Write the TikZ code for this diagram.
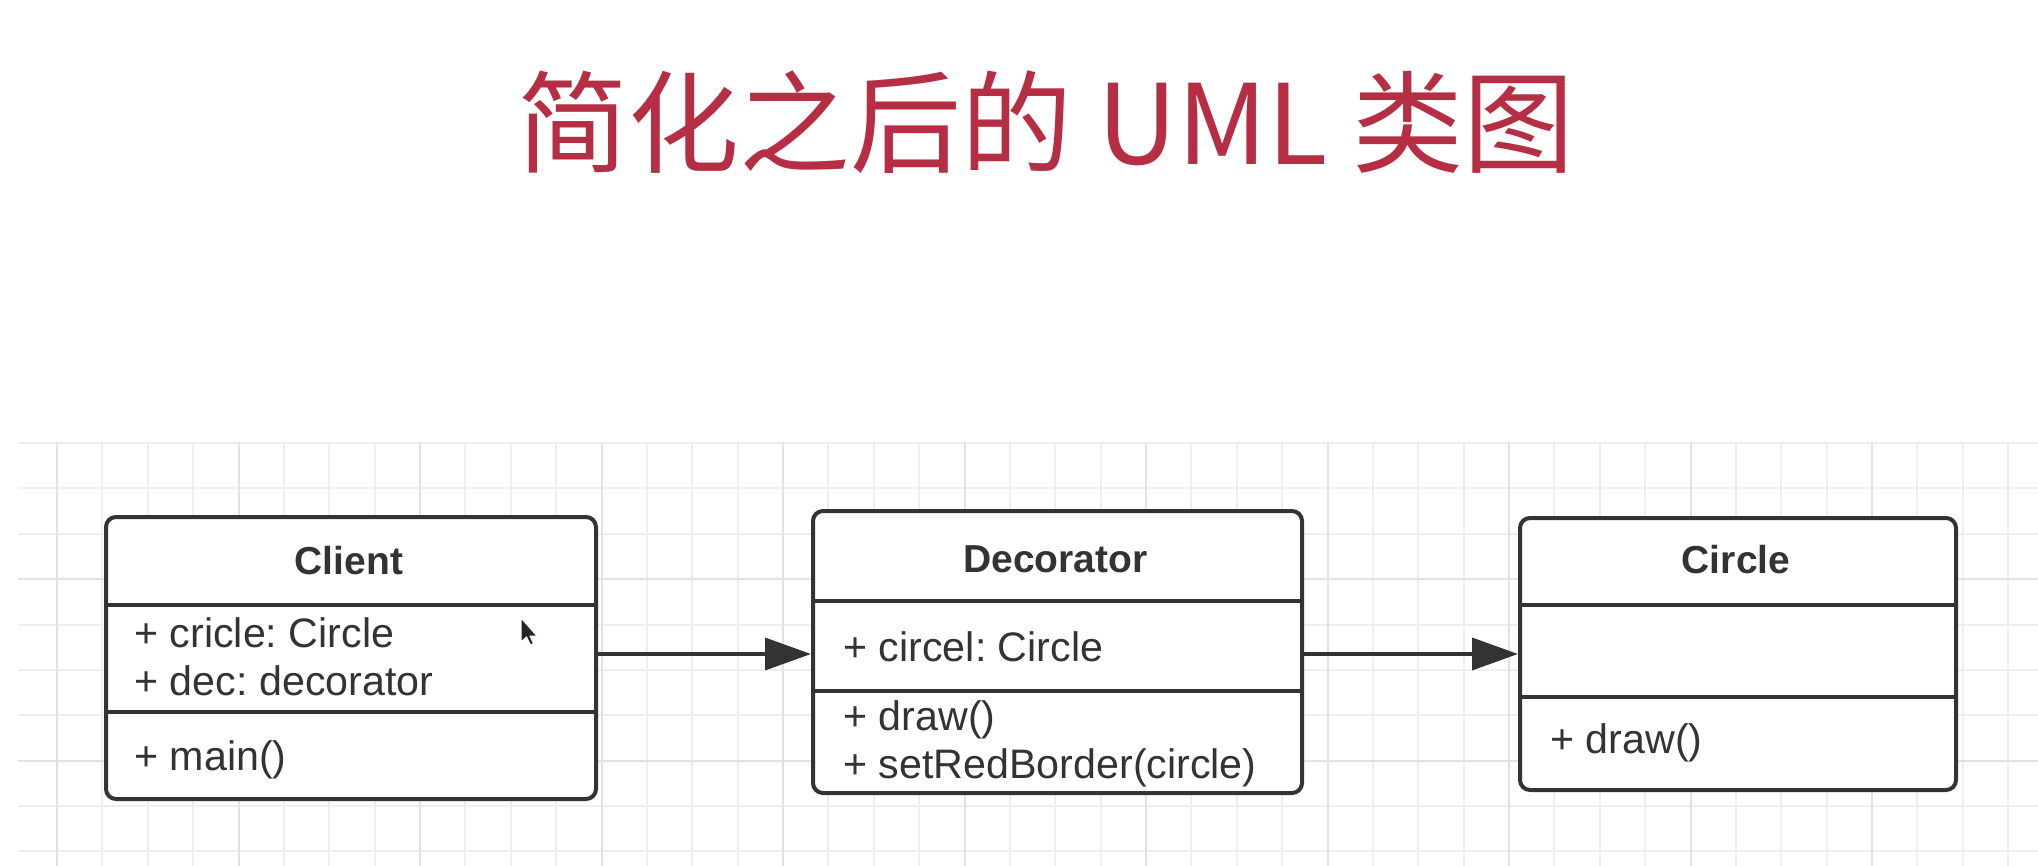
\documentclass[tikz,border=0pt]{standalone}
\usepackage{fontspec}
\setmainfont{Liberation Sans}
\newfontfamily\cjk{Noto Sans CJK SC}
\usepackage{tikz}
\usetikzlibrary{arrows.meta}
\frenchspacing

\definecolor{titlered}{RGB}{182,46,68}
\definecolor{linegray}{RGB}{51,51,51}
\definecolor{gridminor}{RGB}{238,238,238}
\definecolor{gridmajor}{RGB}{226,226,226}

\tikzset{
  umlbox/.style={draw=linegray,line width=2pt,rounded corners=5pt,fill=white,
    inner sep=0pt,anchor=north west},
  divider/.style={draw=linegray,line width=2pt},
  classname/.style={font=\bfseries\fontsize{19.5}{23}\selectfont,text=linegray,
    inner sep=0pt,anchor=base},
  member/.style={font=\fontsize{20.6}{24}\selectfont,text=linegray,
    inner sep=0pt,anchor=base west},
  assoc/.style={draw=linegray,line width=1.8pt,-{Triangle[length=23pt,width=16pt]}},
}

\begin{document}
\begin{tikzpicture}[x=0.5pt,y=-0.5pt]
\useasboundingbox (0,0) rectangle (2038,866);
\fill[white] (0,0) rectangle (2038,866);
% title:
\node[font=\cjk\fontsize{55.5}{60}\selectfont,text=titlered,anchor=base,inner sep=0pt]
  (title) at (1046,165) {简化之后的 UML 类图};
% grid:
\foreach \k in {0,...,43}
  \draw[gridminor,line width=1pt] ({57+45.375*\k},443) -- ({57+45.375*\k},866);
\foreach \k in {0,...,9}
  \draw[gridminor,line width=1pt] (18,{443+45.375*\k}) -- (2038,{443+45.375*\k});
\foreach \k in {0,...,10}
  \draw[gridmajor,line width=1pt] ({57+181.5*\k},443) -- ({57+181.5*\k},866);
\foreach \k in {0,1}
  \draw[gridmajor,line width=1pt] (18,{579.1+181.5*\k}) -- (2038,{579.1+181.5*\k});
% classes:
\node[umlbox,minimum width=245pt,minimum height=141pt] (client) at (104,515) {};
\node[umlbox,minimum width=244.5pt,minimum height=141pt] (decorator) at (811,509) {};
\node[umlbox,minimum width=218pt,minimum height=136pt] (circle) at (1518,516) {};
\draw[divider] (104,605) -- (594,605);
\draw[divider] (104,712) -- (594,712);
\draw[divider] (811,601) -- (1300,601);
\draw[divider] (811,691) -- (1300,691);
\draw[divider] (1518,605) -- (1954,605);
\draw[divider] (1518,697) -- (1954,697);
% texts:
\node[classname] (clientName) at (349,574) {Client};
\node[member] (clientCircle) at (134,647) {+ cricle: Circle};
\node[member] (clientDec) at (134,695) {+ dec: decorator};
\node[member] (clientMain) at (134,770) {+ main()};
\node[classname] (decoratorName) at (1055.5,572) {Decorator};
\node[member] (decoratorCircle) at (843,661) {+ circel: Circle};
\node[member] (decoratorDraw) at (843,730) {+ draw()};
\node[member] (decoratorBorder) at (843,778) {+ setRedBorder(circle)};
\node[classname] (circleName) at (1736,573) {Circle};
\node[member] (circleDraw) at (1550,753) {+ draw()};
% arrows:
\draw[assoc] (client.east |- circle.west) -- (decorator.west |- circle.west);
\draw[assoc] (decorator.east |- circle.west) -- (circle.west);
% pointer:
\path[fill=black!85,draw=white,line width=0.5pt,shift={(521,618)}]
  (0,0) -- (0,24) -- (5.5,19) -- (9.5,27) -- (12.5,25.5) -- (9,18) -- (16,18) -- cycle;
\end{tikzpicture}
\end{document}
